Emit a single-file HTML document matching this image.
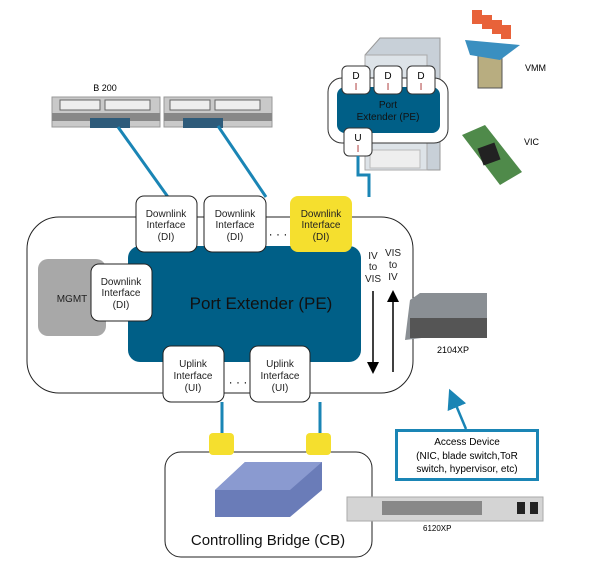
<!DOCTYPE html>
<html><head><style>
body{margin:0;background:#fff;}
svg text{font-family:"Liberation Sans",sans-serif;}
</style></head><body>
<svg width="601" height="569" viewBox="0 0 601 569" xmlns="http://www.w3.org/2000/svg">
<defs>
<marker id="ah" markerWidth="8" markerHeight="8" refX="4" refY="4" orient="auto"><path d="M0,0 L8,4 L0,8 z" fill="#000"/></marker>
<marker id="ab" markerWidth="8" markerHeight="8" refX="4" refY="4" orient="auto"><path d="M0,0 L8,4 L0,8 z" fill="#1a85b5"/></marker>
</defs>
<!-- blades -->
<g>
<rect x="52" y="97" width="108" height="30" fill="#c9c9c9" stroke="#999"/>
<rect x="60" y="100" width="40" height="10" fill="#eee" stroke="#666"/><rect x="105" y="100" width="45" height="10" fill="#eee" stroke="#666"/>
<rect x="52" y="113" width="108" height="8" fill="#888"/>
<rect x="90" y="118" width="40" height="10" fill="#2e5b7a"/>
<rect x="164" y="97" width="108" height="30" fill="#c9c9c9" stroke="#999"/>
<rect x="170" y="100" width="40" height="10" fill="#eee" stroke="#666"/><rect x="215" y="100" width="45" height="10" fill="#eee" stroke="#666"/>
<rect x="164" y="113" width="108" height="8" fill="#888"/>
<rect x="183" y="118" width="40" height="10" fill="#2e5b7a"/>
</g>
<text x="105" y="91" font-size="9" text-anchor="middle">B 200</text>
<line x1="118" y1="127" x2="168" y2="197" stroke="#1a85b5" stroke-width="3"/>
<line x1="218" y1="126" x2="266" y2="197" stroke="#1a85b5" stroke-width="3"/>
<!-- server tower -->
<path d="M365,55 L380,38 L440,38 L440,170 L365,170 Z" fill="#c8d0d8" stroke="#999"/>
<rect x="365" y="55" width="62" height="115" fill="#dde3e8" stroke="#aaa"/>
<rect x="370" y="150" width="50" height="18" fill="#eee" stroke="#bbb"/>
<rect x="328" y="78" width="120" height="65" rx="14" fill="#fff" stroke="#333"/>
<rect x="337" y="87" width="103" height="46" rx="8" fill="#005f87"/>
<text x="388" y="108" font-size="10" text-anchor="middle" fill="#111">Port</text>
<text x="388" y="120" font-size="10" text-anchor="middle" fill="#111">Extender (PE)</text>
<g font-size="10" text-anchor="middle">
<rect x="342" y="66" width="28" height="28" rx="5" fill="#fff" stroke="#333"/><text x="356" y="79">D</text><text x="356" y="90" fill="#a33">I</text>
<rect x="374" y="66" width="28" height="28" rx="5" fill="#fff" stroke="#333"/><text x="388" y="79">D</text><text x="388" y="90" fill="#a33">I</text>
<rect x="407" y="66" width="28" height="28" rx="5" fill="#fff" stroke="#333"/><text x="421" y="79">D</text><text x="421" y="90" fill="#a33">I</text>
<rect x="344" y="128" width="28" height="28" rx="5" fill="#fff" stroke="#333"/><text x="358" y="141">U</text><text x="358" y="152" fill="#a33">I</text>
</g>
<polyline points="358,156 358,175 369,175 369,197" fill="none" stroke="#1a85b5" stroke-width="3"/>
<!-- VMM -->
<rect x="478" y="55" width="24" height="33" fill="#b8ad80" stroke="#555"/>
<path d="M465,40 L520,45 L500,60 L470,55 Z" fill="#3a8fc0"/>
<rect x="472" y="10" width="10" height="14" fill="#e8623a"/><rect x="482" y="15" width="10" height="14" fill="#e8623a"/><rect x="492" y="20" width="10" height="14" fill="#e8623a"/><rect x="501" y="25" width="10" height="14" fill="#e8623a"/>
<text x="525" y="71" font-size="9">VMM</text>
<!-- VIC -->
<path d="M462,135 L485,125 L522,172 L500,185 Z" fill="#4f8a4a"/>
<rect x="480" y="145" width="18" height="18" fill="#222" transform="rotate(-20 489 154)"/>
<text x="524" y="145" font-size="9">VIC</text>
<!-- outer box -->
<rect x="27" y="217" width="386" height="176" rx="32" fill="#fff" stroke="#222"/>
<rect x="38" y="259" width="68" height="77" rx="10" fill="#a8a8a8"/>
<text x="72" y="302" font-size="10" text-anchor="middle" fill="#222">MGMT</text>
<rect x="128" y="246" width="233" height="116" rx="12" fill="#005f87"/>
<text x="261" y="309" font-size="17" text-anchor="middle" fill="#111">Port Extender (PE)</text>
<g font-size="10" text-anchor="middle" fill="#222">
<rect x="136" y="196" width="61" height="56" rx="8" fill="#fff" stroke="#222"/>
<text x="166" y="217">Downlink</text><text x="166" y="228">Interface</text><text x="166" y="240">(DI)</text>
<rect x="204" y="196" width="62" height="56" rx="8" fill="#fff" stroke="#222"/>
<text x="235" y="217">Downlink</text><text x="235" y="228">Interface</text><text x="235" y="240">(DI)</text>
<rect x="290" y="196" width="62" height="56" rx="8" fill="#f5df2e"/>
<text x="321" y="217">Downlink</text><text x="321" y="228">Interface</text><text x="321" y="240">(DI)</text>
<rect x="91" y="264" width="61" height="57" rx="8" fill="#fff" stroke="#222"/>
<text x="121" y="285">Downlink</text><text x="121" y="296">Interface</text><text x="121" y="308">(DI)</text>
<rect x="163" y="346" width="61" height="56" rx="8" fill="#fff" stroke="#222"/>
<text x="193" y="367">Uplink</text><text x="193" y="379">Interface</text><text x="193" y="391">(UI)</text>
<rect x="250" y="346" width="60" height="56" rx="8" fill="#fff" stroke="#222"/>
<text x="280" y="367">Uplink</text><text x="280" y="379">Interface</text><text x="280" y="391">(UI)</text>
<text x="373" y="259">IV</text><text x="373" y="270">to</text><text x="373" y="282">VIS</text>
<text x="393" y="256">VIS</text><text x="393" y="268">to</text><text x="393" y="280">IV</text>
</g>
<text x="278" y="238" font-size="12" text-anchor="middle">· · ·</text>
<text x="238" y="386" font-size="12" text-anchor="middle">· · ·</text>
<line x1="373" y1="291" x2="373" y2="368" stroke="#000" stroke-width="1.5" marker-end="url(#ah)"/>
<line x1="393" y1="372" x2="393" y2="296" stroke="#000" stroke-width="1.5" marker-end="url(#ah)"/>
<!-- 2104XP -->
<path d="M410,300 L420,293 L487,293 L487,330 L405,340 Z" fill="#8a8f94"/>
<rect x="410" y="318" width="77" height="20" fill="#555"/>
<text x="437" y="353" font-size="9">2104XP</text>
<!-- bottom -->
<line x1="222" y1="402" x2="222" y2="434" stroke="#1a85b5" stroke-width="3"/>
<line x1="320" y1="402" x2="320" y2="434" stroke="#1a85b5" stroke-width="3"/>
<rect x="165" y="452" width="207" height="105" rx="16" fill="#fff" stroke="#222"/>
<rect x="209" y="433" width="25" height="22" rx="4" fill="#f5df2e"/>
<rect x="306" y="433" width="25" height="22" rx="4" fill="#f5df2e"/>
<path d="M215,490 L245,462 L322,462 L322,490 L290,517 L215,517 Z" fill="#6a7cb8"/>
<path d="M215,490 L245,462 L322,462 L290,490 Z" fill="#8a9ad0"/>
<text x="268" y="545" font-size="15" text-anchor="middle" fill="#111">Controlling Bridge (CB)</text>
<rect x="396.5" y="430.5" width="141" height="49" fill="#fff" stroke="#1a85b5" stroke-width="3"/>
<g font-size="10" text-anchor="middle"><text x="467" y="445">Access Device</text><text x="467" y="459">(NIC, blade switch,ToR</text><text x="467" y="472">switch, hypervisor, etc)</text></g>
<line x1="466" y1="429" x2="453" y2="398" stroke="#1a85b5" stroke-width="2.5" marker-end="url(#ab)"/>
<rect x="347" y="497" width="196" height="24" fill="#d4d4d4" stroke="#aaa"/>
<rect x="382" y="501" width="100" height="14" fill="#888"/>
<rect x="517" y="502" width="8" height="12" fill="#222"/><rect x="530" y="502" width="8" height="12" fill="#222"/>
<text x="423" y="531" font-size="8">6120XP</text>
</svg>
</body></html>
